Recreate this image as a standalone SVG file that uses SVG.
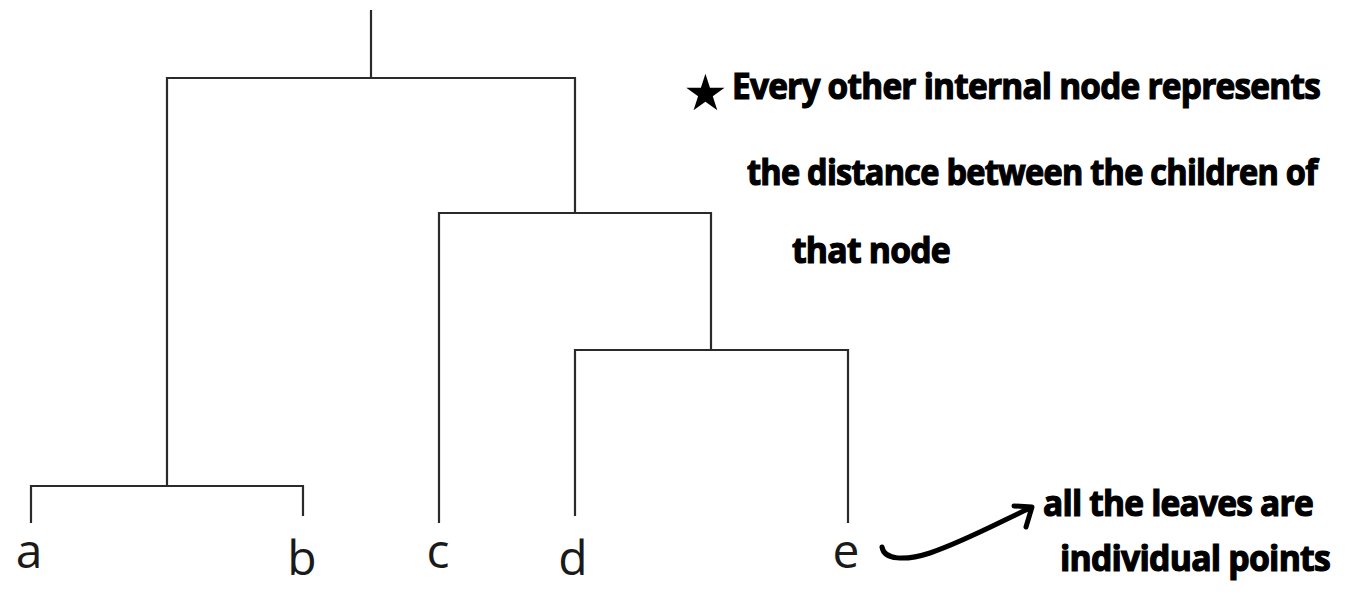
<svg xmlns="http://www.w3.org/2000/svg" width="1368" height="616" viewBox="0 0 1368 616">
<style>
.ln{fill:none;stroke:#2a2a2a;stroke-width:2.2;stroke-linejoin:miter;stroke-linecap:butt}
.lbl{font-family:"Open Sans","Noto Sans",sans-serif;font-size:48px;fill:#1a1a1a;text-anchor:middle}
.hw{font-family:"Open Sans","Liberation Sans",sans-serif;font-weight:bold;font-size:35px;letter-spacing:-0.8px;fill:#000;stroke:#000;stroke-width:1.2}
.ink{fill:none;stroke:#000;stroke-width:5;stroke-linecap:round;stroke-linejoin:round}
</style>
<rect width="1368" height="616" fill="#fff"/>
<g id="connectors">
<path class="ln" d="M371 10 V78"/>
<path class="ln" d="M167 486 V78 H575 V213"/>
<path class="ln" d="M31 523 V486 H303 V516"/>
<path class="ln" d="M439 523 V213 H711 V350"/>
<path class="ln" d="M575 516 V350 H848 V523"/>
</g>
<g id="node-a"><text class="lbl" x="29" y="568">a</text></g>
<g id="node-b"><text class="lbl" x="302" y="575">b</text></g>
<g id="node-c"><text class="lbl" x="438" y="568">c</text></g>
<g id="node-d"><text class="lbl" x="573" y="575">d</text></g>
<g id="node-e"><text class="lbl" x="846" y="568">e</text></g>
<g id="note-internal">
<text x="683" y="110" font-family="DejaVu Sans,sans-serif" font-size="50" fill="#000">★</text>
<text class="hw" x="732" y="99" textLength="588" lengthAdjust="spacingAndGlyphs">Every other internal node represents</text>
<text class="hw" x="747" y="185" textLength="570" lengthAdjust="spacingAndGlyphs">the distance between the children of</text>
<text class="hw" x="792" y="263" textLength="158" lengthAdjust="spacingAndGlyphs">that node</text>
</g>
<g id="note-leaves">
<path class="ink" d="M882 547 C884 560 905 561 930 553 C965 541 1000 522 1030 508"/>
<path class="ink" d="M1014 506 L1032 507 L1026 527"/>
<text class="hw" x="1043" y="516" textLength="270" lengthAdjust="spacingAndGlyphs">all the leaves are</text>
<text class="hw" x="1060" y="571" textLength="270" lengthAdjust="spacingAndGlyphs">individual points</text>
</g>
</svg>
